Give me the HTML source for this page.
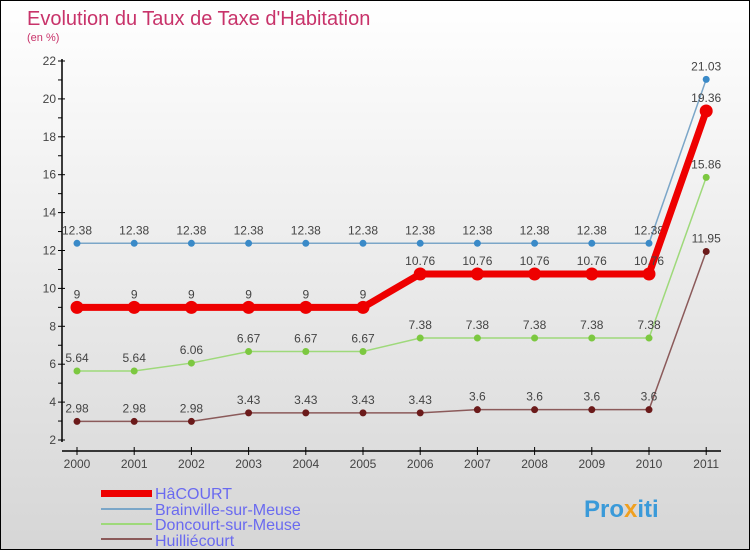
<!DOCTYPE html>
<html><head><meta charset="utf-8"><style>
body{margin:0}
#c{width:750px;height:550px;position:relative;overflow:hidden;box-sizing:border-box;border:1px solid #000;background:linear-gradient(#fff,#d6d6d6);font-family:"Liberation Sans","DejaVu Sans",sans-serif}
</style></head><body>
<div id="c">
<svg id="s" width="750" height="550" style="position:absolute;left:0;top:0">
<text x="26" y="24" font-size="20" fill="#c8336a">Evolution du Taux de Taxe d'Habitation</text>
<text x="26" y="40" font-size="11" fill="#c8336a">(en %)</text>
<g id="ax"></g><g id="lines"></g>
<g font-size="16" fill="#6a6af0">
<rect x="100" y="489" width="51" height="7" fill="#e00"/>
<text x="154" y="498">HâCOURT</text>
<rect x="100" y="507" width="51" height="2" fill="#7ba6c8"/>
<text x="154" y="514">Brainville-sur-Meuse</text>
<rect x="100" y="522" width="51" height="2" fill="#9ed97a"/>
<text x="154" y="529">Doncourt-sur-Meuse</text>
<rect x="100" y="537" width="51" height="2" fill="#8b5a5a"/>
<text x="154" y="545">Huilliécourt</text>
</g>
<text x="583" y="516" font-size="24" font-weight="bold" fill="#3a9ad9">Pro<tspan fill="#f0a020">x</tspan>iti</text>
</svg>
</div>
<script>
const years=[2000,2001,2002,2003,2004,2005,2006,2007,2008,2009,2010,2011];
const yTicks=[2,4,6,8,10,12,14,16,18,20,22];
const hacourt=[9,9,9,9,9,9,10.76,10.76,10.76,10.76,10.76,19.36];
const brainville=[12.38,12.38,12.38,12.38,12.38,12.38,12.38,12.38,12.38,12.38,12.38,21.03];
const doncourt=[5.64,5.64,6.06,6.67,6.67,6.67,7.38,7.38,7.38,7.38,7.38,15.86];
const huilliecourt=[2.98,2.98,2.98,3.43,3.43,3.43,3.43,3.6,3.6,3.6,3.6,11.95];
const NS="http://www.w3.org/2000/svg";
const X=i=>76+i*57.2, Y=v=>439-(v-2)*18.95;
function mk(t,a,p){const e=document.createElementNS(NS,t);for(const k in a)e.setAttribute(k,a[k]);p.appendChild(e);return e;}
const ax=document.getElementById('ax');
let l=mk('line',{x1:61,y1:58,x2:61,y2:441,stroke:'#000','stroke-width':1.5},ax);


l=mk('line',{x1:61,y1:450,x2:720,y2:450,stroke:'#000','stroke-width':1.5},ax);


yTicks.forEach(v=>{mk('line',{x1:57,x2:64,y1:Y(v),y2:Y(v),stroke:'#000'},ax);
 if(v<22)mk('line',{x1:57,x2:61,y1:Y(v+1),y2:Y(v+1),stroke:'#000'},ax);
 const t=mk('text',{x:55,y:Y(v)+4,'text-anchor':'end','font-size':12,fill:'#444'},ax);t.textContent=v;
 
 });
years.forEach((y,i)=>{mk('line',{x1:X(i),x2:X(i),y1:446,y2:454,stroke:'#000'},ax);
 const t=mk('text',{x:X(i),y:467,'text-anchor':'middle','font-size':12,fill:'#444'},ax);t.textContent=y;
 
 });
const g=document.getElementById('lines');
function series(d,name,col,dot,w,r){
 const p=mk('polyline',{points:d.map((v,i)=>X(i)+','+Y(v)).join(' '),fill:'none',stroke:col,'stroke-width':w},g);
 
 
 d.forEach((v,i)=>{const c=mk('circle',{cx:X(i),cy:Y(v),r:r,fill:dot},g);
  
  
  const t=mk('text',{x:X(i),y:Y(v)-9,'text-anchor':'middle','font-size':12,fill:'#444'},g);
  t.textContent=String(v);
  
  });
}
series(huilliecourt,'huilliecourt','#8b5a5a','#6b1a1a',1.5,3.5);
series(doncourt,'doncourt','#9ed97a','#7cc840',1.5,3.5);
series(brainville,'brainville','#7ba6c8','#3a8ac8',1.5,3.5);
series(hacourt,'hacourt','#e00','#e00',7,6.5);
</script>
</body></html>
